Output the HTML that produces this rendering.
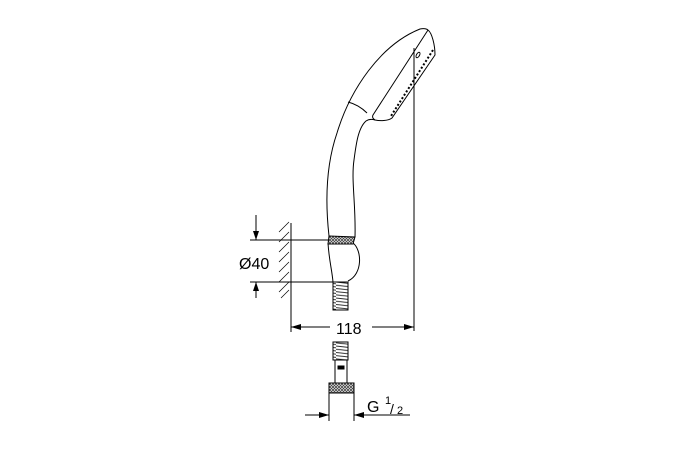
<!DOCTYPE html>
<html><head><meta charset="utf-8"><style>
html,body{margin:0;padding:0;background:#fff;}
svg{display:block;}
text{font-family:"Liberation Sans",sans-serif;fill:#000;}
</style></head><body>
<svg width="675" height="450" viewBox="0 0 675 450" xmlns="http://www.w3.org/2000/svg">
<defs>
<pattern id="kn" width="3" height="3" patternUnits="userSpaceOnUse">
<rect width="3" height="3" fill="#fff"/><path d="M0,0L3,3M3,0L0,3" stroke="#444" stroke-width="0.8"/>
</pattern>
<pattern id="coil" width="16" height="3.2" patternUnits="userSpaceOnUse">
<rect width="16" height="3.2" fill="#fff"/><path d="M0,0.5L16,2.2" stroke="#222" stroke-width="0.9"/>
</pattern>
</defs>
<g fill="none" stroke="#000" stroke-width="1">
<!-- handle -->
<path d="M329,236 C325,200 326,165 337,133 C350,90 380,45 420,29 C424,28 427,29 428,30"/>
<path d="M355,237 C356,205 351,180 354,160 C356,145 358,128 366,121 C369,119 372,119 375,120"/>
<path d="M348,102 C356,104 362,108 367,113"/>
<!-- head -->
<path d="M428,30 C432,33 435,45 435,55 L392,118 C388,121 380,121 375,120"/>
<path d="M428,30 L373,115 C372,117 373,119 375,120"/>
<ellipse cx="418" cy="55" rx="1.5" ry="3" transform="rotate(30 418 55)"/>
<path d="M433,50 L391,116" stroke-dasharray="2,2" stroke-width="2"/>
<!-- wall -->
<line x1="291" y1="223" x2="291" y2="332"/>
<path d="M279,232l10,-10M279,242l10,-10M279,252l10,-10M279,262l10,-10M279,272l10,-10M279,282l10,-10M279,292l10,-10M281,298l8,-8" stroke-width="0.7"/>
<!-- holder -->
<path d="M250,240 L328,240 M250,282 L333,282"/>
<path d="M353,243 C362,250 363,274 348,281"/>
<path d="M328,243 C329,260 332,270 333,282"/>
<path d="M329,236 L355,237 L353,244 L328,244 Z" fill="url(#kn)"/>
<rect x="333" y="282" width="15" height="28" fill="url(#coil)"/>
<rect x="333" y="342" width="15" height="18" fill="url(#coil)"/>
<rect x="335" y="360" width="12" height="23"/>
<rect x="338" y="366" width="6" height="3" fill="#000"/>
<rect x="329" y="383" width="25" height="10" fill="url(#kn)"/>
<line x1="329" y1="393" x2="329" y2="421"/><line x1="354" y1="393" x2="354" y2="421"/>
<!-- dims -->
<line x1="256" y1="215" x2="256" y2="240"/><line x1="256" y1="282" x2="256" y2="298"/>
<line x1="414" y1="48" x2="414" y2="331"/>
<line x1="291" y1="327" x2="330" y2="327"/><line x1="372" y1="327" x2="414" y2="327"/>
<line x1="305" y1="415" x2="329" y2="415"/><line x1="354" y1="415" x2="410" y2="415"/>
</g>
<g fill="#000">
<path d="M256,240l-3,-9h6z"/><path d="M256,282l-3,9h6z"/>
<path d="M291,327l10,-3v6z"/><path d="M414,327l-10,-3v6z"/>
<path d="M329,415l-10,-3v6z"/><path d="M354,415l10,-3v6z"/>
</g>
<text x="239" y="269" font-size="16">Ø40</text>
<text x="336" y="334" font-size="16">118</text>
<text x="367" y="412" font-size="16">G</text>
<text x="385" y="404" font-size="11">1</text>
<text x="390" y="414" font-size="14">/</text>
<text x="397" y="414" font-size="11">2</text>
</svg>
</body></html>
